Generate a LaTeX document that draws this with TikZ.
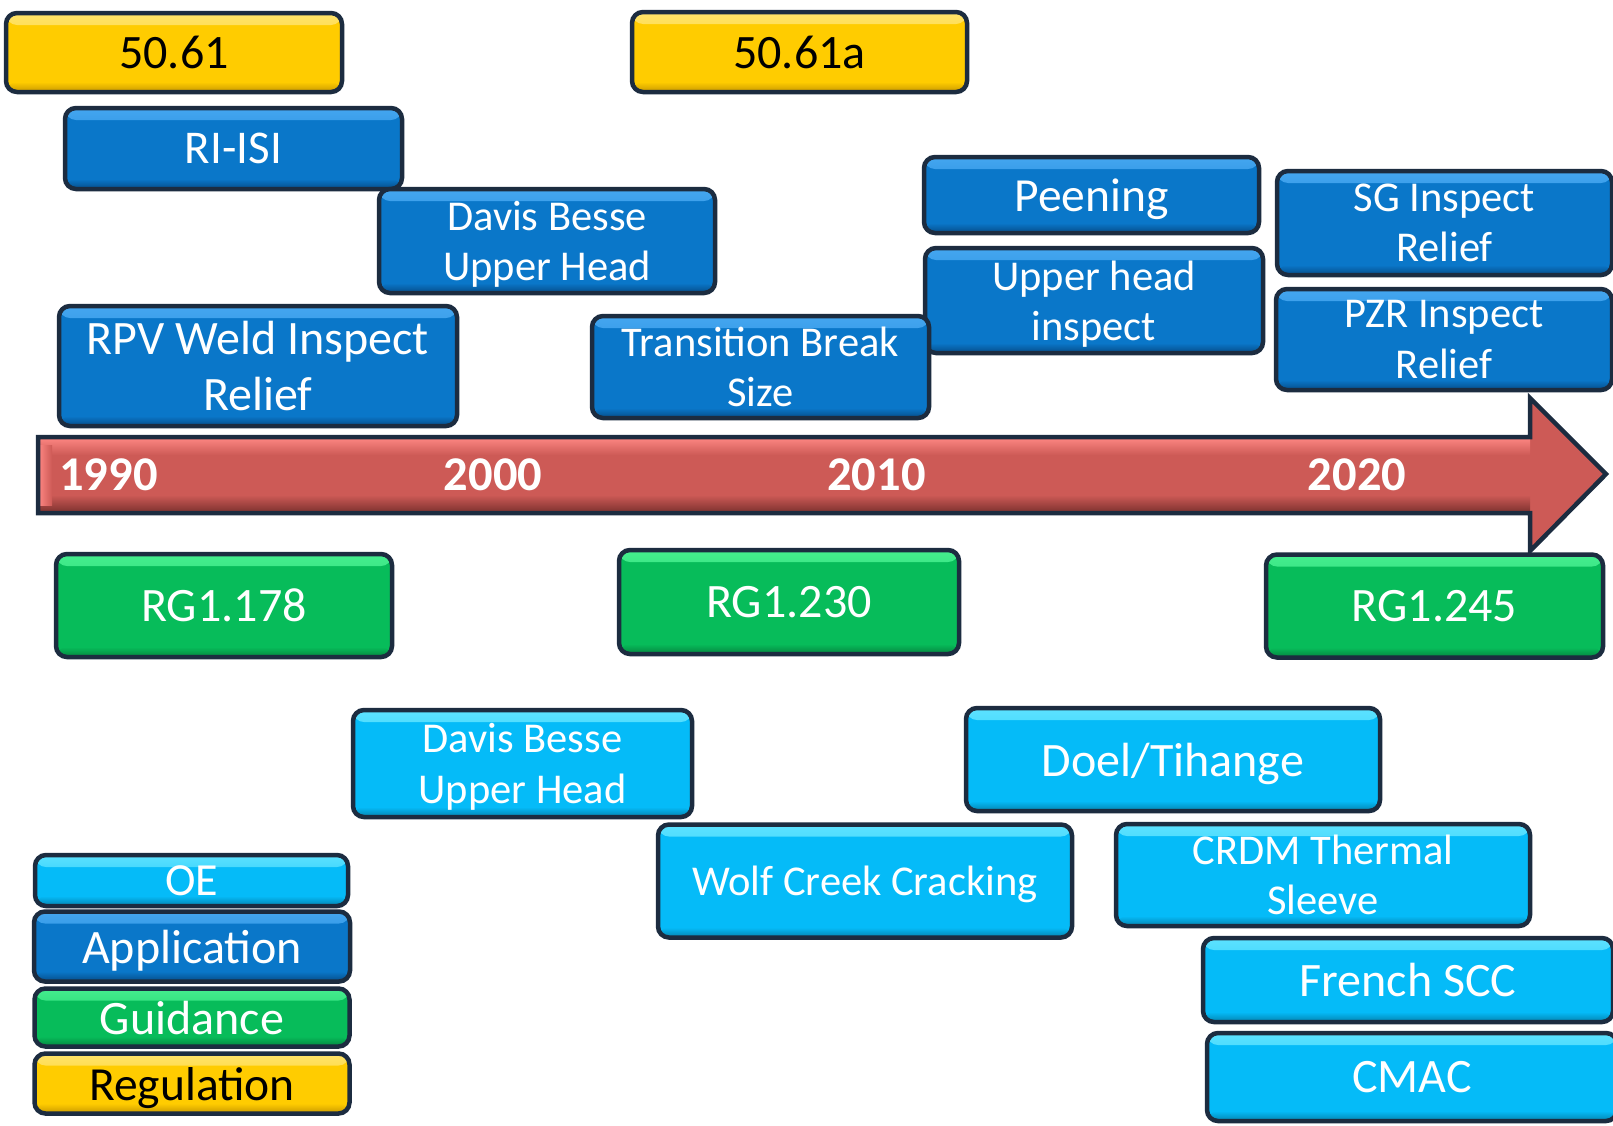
\documentclass[tikz,border=0pt]{standalone}
\usepackage{amsmath}
\usepackage{fontspec}
\setmainfont{Carlito}
\newcommand\fs[2]{\fontsize{#1}{#2}\selectfont}

\definecolor{edge}{HTML}{1C2C40}
\definecolor{yel}{HTML}{FFCC00}
\definecolor{yellight}{HTML}{FFE36A}
\definecolor{yeldark}{HTML}{C79700}
\definecolor{app}{HTML}{0A77C9}
\definecolor{applight}{HTML}{44A6F0}
\definecolor{appdark}{HTML}{054C88}
\definecolor{oe}{HTML}{05BBF8}
\definecolor{oelight}{HTML}{5CE2FF}
\definecolor{oedark}{HTML}{0382AE}
\definecolor{grn}{HTML}{07BC5A}
\definecolor{grnlight}{HTML}{45EE8E}
\definecolor{grndark}{HTML}{04833E}
\definecolor{arr}{HTML}{CD5A56}
\definecolor{arrlight}{HTML}{FF8884}
\definecolor{arrdark}{HTML}{7A302D}

\tikzset{
  tl/.style={rounded corners=11pt, draw=edge, line width=4.5pt, align=center,
    inner sep=0pt, text=white},
  bevel/.style n args={3}{fill=#1, path picture={
    \shade[top color=#2, bottom color=#1]
      (path picture bounding box.north west) rectangle
      ([yshift=-12pt]path picture bounding box.north east);
    \shade[top color=#1, bottom color=#3]
      ([yshift=10pt]path picture bounding box.south west) rectangle
      (path picture bounding box.south east);
  }},
  regbox/.style={tl, bevel={yel}{yellight}{yeldark}, text=black},
  appbox/.style={tl, bevel={app}{applight}{appdark}},
  oebox/.style={tl, bevel={oe}{oelight}{oedark}},
  guidebox/.style={tl, bevel={grn}{grnlight}{grndark}},
  big/.style={font={\fs{48}{56}}},
  two/.style={font={\fs{42.5}{50.5}}},
  year/.style={text=white, font={\fs{48.5}{52}\bfseries}},
}

\begin{document}
\begin{tikzpicture}[x=1pt, y=-1pt]
\useasboundingbox (0,0) rectangle (1613,1125);
\fill[white] (0,0) rectangle (1613,1125);

% regulations
\node[regbox, big, minimum width=336pt, minimum height=79pt] (r5061) at (174,52.5) {50.61};
\node[regbox, big, minimum width=335pt, minimum height=80pt] (r5061a) at (799.5,52) {50.61a};

% applications above the timeline
\node[appbox, minimum width=337pt, minimum height=81pt, font={\fs{47}{54}}] (riisi) at (233.5,148.5) {RI-ISI};
\node[appbox, two, minimum width=336pt, minimum height=104pt] (dbapp) at (547,241) {Davis Besse\\\smash[b]{Upper Head}};
\node[appbox, minimum width=335pt, minimum height=76pt, font={\fs{47.5}{54}}] (peen) at (1091.5,195) {\smash[b]{Peening}};
\node[appbox, two, minimum width=338pt, minimum height=105pt] (uhi) at (1094,300.5) {Upper head\\\smash[b]{inspect}};
\node[appbox, two, minimum width=335pt, minimum height=104pt] (sg) at (1444.5,223) {SG Inspect\\Relief};
\node[appbox, two, minimum width=336pt, minimum height=101pt] (pzr) at (1444,339.5) {PZR Inspect\\Relief};
\node[appbox, minimum width=398pt, minimum height=120pt, font={\fs{48}{56}}] (rpv) at (258,366) {RPV Weld Inspect\\Relief};
\node[appbox, two, minimum width=337pt, minimum height=102pt] (tbs) at (760.5,367) {Transition Break\\Size};

% timeline arrow
\begin{scope}
  \clip (38,437) -- (1530,437) -- (1530,398) -- (1606,474) -- (1530,551)
        -- (1530,513) -- (38,513) -- cycle;
  \fill[arr] (30,390) rectangle (1615,560);
  \shade[top color=arrlight, bottom color=arr] (38,437) rectangle (1530,455);
  \shade[top color=arr, bottom color=arrdark] (38,495) rectangle (1530,513);
  \shade[left color=arrlight, right color=arr] (38,445) rectangle (52,505);
\end{scope}
\draw[edge, line width=4.5pt, line join=miter]
  (38,437) -- (1530,437) -- (1530,398) -- (1606,474) -- (1530,551)
  -- (1530,513) -- (38,513) -- cycle;
\node[year] (y1990) at (108.5,475) {1990};
\node[year] (y2000) at (493,475) {2000};
\node[year] (y2010) at (876.5,475) {2010};
\node[year] (y2020) at (1357,475) {2020};

% guidance
\node[guidebox, big, minimum width=336pt, minimum height=103pt] (rg178) at (224,605.5) {RG1.178};
\node[guidebox, big, minimum width=340pt, minimum height=104pt] (rg230) at (789,602) {RG1.230};
\node[guidebox, big, minimum width=337pt, minimum height=103pt] (rg245) at (1434.5,606) {RG1.245};

% operating experience
\node[oebox, two, minimum width=339pt, minimum height=107pt] (dboe) at (522.5,763.5) {Davis Besse\\\smash[b]{Upper Head}};
\node[oebox, big, minimum width=414pt, minimum height=103pt] (doel) at (1173,759.5) {\smash[b]{Doel/Tihange}};
\node[oebox, two, minimum width=414pt, minimum height=113pt] (wolf) at (865,881) {\smash[b]{Wolf Creek Cracking}};
\node[oebox, two, minimum width=414pt, minimum height=102pt] (crdm) at (1323,875) {CRDM Thermal\\Sleeve};
\node[oebox, big, minimum width=410pt, minimum height=84pt] (fscc) at (1408,980) {French SCC};
\node[oebox, big, minimum width=410pt, minimum height=88pt] (cmac) at (1412,1077) {CMAC};

% legend
\node[oebox, minimum width=313pt, minimum height=51pt, font={\fs{46}{52}}] (lgoe) at (191.5,880.5) {OE};
\node[appbox, big, minimum width=316pt, minimum height=70pt] (lgapp) at (192,946.5) {\smash[b]{Application}};
\node[guidebox, big, minimum width=315pt, minimum height=58pt] (lgguide) at (192,1017.5) {Guidance};
\node[regbox, minimum width=315pt, minimum height=60pt, font={\fs{47.5}{54}}] (lgreg) at (192,1083.5) {\smash[b]{Regulation}};
\end{tikzpicture}
\end{document}
